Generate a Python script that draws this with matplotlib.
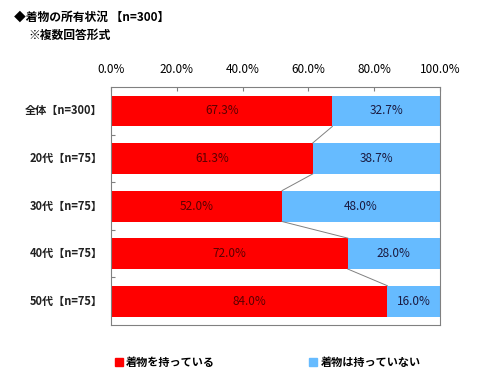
import matplotlib
matplotlib.use('Agg')
import matplotlib.pyplot as plt
from matplotlib.patches import Patch

plt.rcParams['font.family'] = ['Noto Sans CJK JP', 'DejaVu Sans']

categories = ['全体【n=300】', '20代【n=75】', '30代【n=75】', '40代【n=75】', '50代【n=75】']
have = [67.3, 61.3, 52.0, 72.0, 84.0]
have_not = [32.7, 38.7, 48.0, 28.0, 16.0]
series_names = ['着物を持っている', '着物は持っていない']
xticks = [0, 20, 40, 60, 80, 100]

red = '#FF0000'
blue = '#66BBFF'
bar_h = 0.65

fig = plt.figure(figsize=(4.88, 3.91), dpi=100)
ax = fig.add_axes([0.2275, 0.169, 0.674, 0.608])

y = list(range(len(categories)))
ax.barh(y, have, height=bar_h, color=red)
ax.barh(y, have_not, left=have, height=bar_h, color=blue)

# value labels
for i in y:
    ax.text(have[i] / 2, i, '%.1f%%' % have[i], ha='center', va='center',
            fontsize=8.5, color='#5a0000')
    ax.text(have[i] + have_not[i] / 2, i, '%.1f%%' % have_not[i], ha='center',
            va='center', fontsize=8.5, color='#1a1a40')

# series lines between red bar ends
for i in range(len(categories) - 1):
    ax.plot([have[i], have[i + 1]], [i + bar_h / 2, i + 1 - bar_h / 2],
            color='#808080', lw=0.7)

ax.set_xlim(0, 100)
ax.set_ylim(len(categories) - 0.5, -0.5)
ax.xaxis.tick_top()
ax.set_xticks(xticks)
ax.set_xticklabels(['%.1f%%' % v for v in xticks], fontsize=8.5)
ax.tick_params(axis='x', direction='in', length=3, pad=8, color='#808080')
ax.set_yticks([i + 0.5 for i in y[:-1]], minor=False)
ax.set_yticklabels([])
ax.tick_params(axis='y', direction='in', length=3, color='#808080')
for i, c in enumerate(categories):
    ax.text(-2.5, i, c, ha='right', va='center', fontsize=8,
            fontweight='bold', color='#202020')
for s in ax.spines.values():
    s.set_color('#808080')
    s.set_linewidth(0.8)

fig.text(0.028, 0.955, '◆着物の所有状況 【n=300】', fontsize=8.5, fontweight='bold',
         va='center')
fig.text(0.058, 0.91, '※複数回答形式', fontsize=8.5, fontweight='bold', va='center')

handles = [Patch(color=red), Patch(color=blue)]
fig.legend(handles, series_names, loc='center left', bbox_to_anchor=(0.215, 0.073),
           ncol=2, frameon=False, handlelength=0.7, handleheight=0.7,
           handletextpad=0.3, columnspacing=8.5, prop={'weight': 'bold', 'size': 8})

fig.savefig('out.png', dpi=100)
